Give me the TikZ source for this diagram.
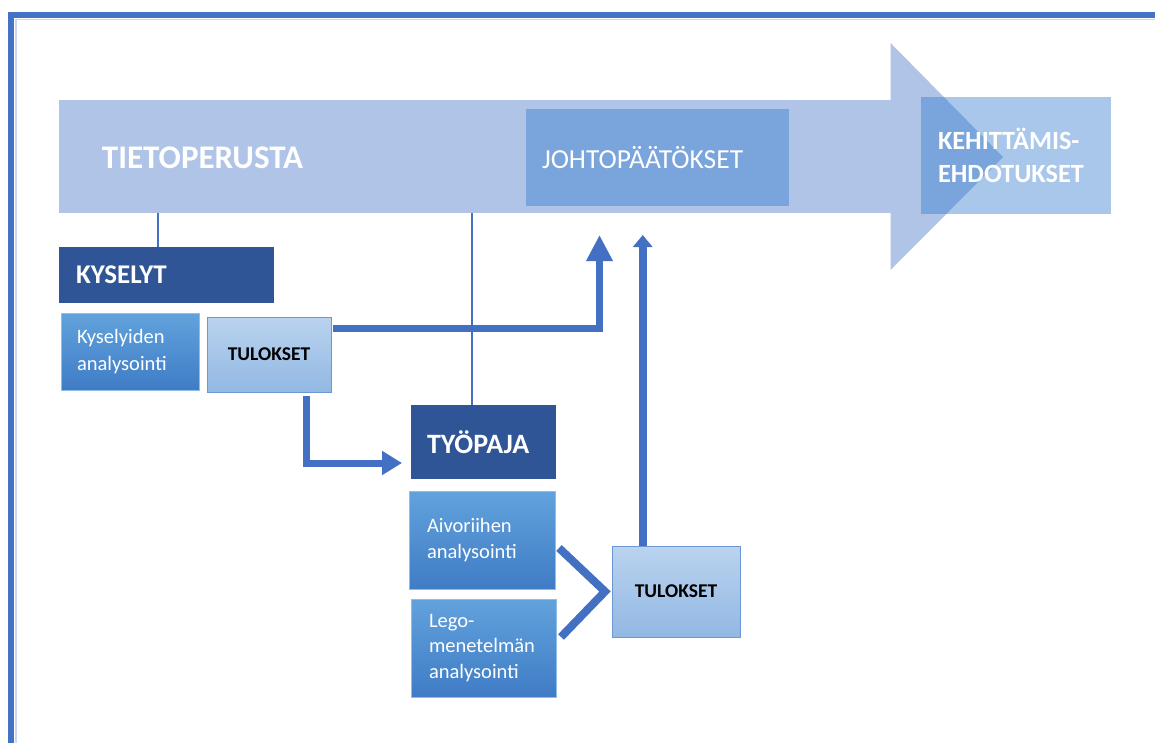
\documentclass[tikz,border=0pt]{standalone}
\usepackage{fontspec}
\setmainfont{Carlito}
\usetikzlibrary{arrows.meta,calc}
\definecolor{frameblue}{HTML}{4472C4}
\definecolor{framepale}{HTML}{C9D7EF}
\definecolor{arrowfill}{HTML}{B0C4E7}
\definecolor{overlayblue}{RGB}{42,117,205}
\definecolor{darkbox}{HTML}{2F5597}
\definecolor{midtop}{HTML}{62A2DC}
\definecolor{midbot}{HTML}{3F7CC6}
\definecolor{lighttop}{HTML}{BAD3EF}
\definecolor{lightbot}{HTML}{92B8E3}
\definecolor{lightedge}{HTML}{6B98D4}
\definecolor{connblue}{HTML}{4370C2}
\begin{document}
\begin{tikzpicture}[x=1pt,y=-1pt,
  basebox/.style={anchor=north west, inner ysep=0pt, outer sep=0pt, align=left, text=white},
  overbox/.style={basebox, fill=overlayblue, fill opacity=0.4, text opacity=1},
  darkbx/.style={basebox, fill=darkbox, font=\bfseries\fontsize{27}{32}\selectfont},
  midbx/.style={basebox, top color=midtop, bottom color=midbot, draw=midtop!70!white, line width=0.6pt, font=\fontsize{20.5}{27.5}\selectfont},
  resbx/.style={basebox, align=center, text=black, top color=lighttop, bottom color=lightbot, draw=lightedge, line width=1pt, font=\bfseries\fontsize{19.5}{23}\selectfont},
  thinline/.style={draw=connblue, line width=1.3pt},
  thickconn/.style={draw=connblue, line width=7pt, line join=miter}
]
\useasboundingbox (0,0) rectangle (1155,743);
\fill[white] (0,0) rectangle (1155,743);

% frame
\draw[framepale, line width=1.2pt] (16,743) -- (16,19.5) -- (1155,19.5);
\draw[frameblue, line width=6pt] (11,743) -- (11,15) -- (1155,15);

% big arrow
\node[anchor=north west, fill=arrowfill, inner sep=0pt, outer sep=0pt, minimum width=832pt, minimum height=113pt] (tieto) at (59,100) {};
\fill[arrowfill] (890.5,43) -- (1003,157) -- (890.5,270) -- cycle;
\node[text=white, font=\bfseries\fontsize{33}{38}\selectfont] (tietotxt) at (202.5,158) {TIETOPERUSTA};

% overlay boxes
\node[overbox, minimum width=263pt, minimum height=97pt, text width=231pt, inner xsep=16pt, font=\fontsize{27.5}{31}\selectfont] (johto) at (526,109) {JOHTOPÄÄTÖKSET};
\node[overbox, minimum width=190pt, minimum height=117pt, text width=156pt, inner xsep=17pt, font=\bfseries\fontsize{26.3}{33}\selectfont] (kehit) at (921,97) {KEHITTÄMIS-\\EHDOTUKSET};

% left column
\node[darkbx, minimum width=215pt, minimum height=56pt, text width=181pt, inner xsep=17pt] (kys) at (59,247) {KYSELYT};
\node[midbx, minimum width=138pt, minimum height=77pt, text width=106pt, inner xsep=16pt] (kysan) at (61,313) {Kyselyiden\\analysointi};
\node[resbx, minimum width=124pt, minimum height=75pt, text width=110pt, inner xsep=7pt] (tul1) at (207,317) {TULOKSET};

% workshop column
\node[darkbx, minimum width=145pt, minimum height=74pt, text width=113pt, inner xsep=16pt, font=\bfseries\fontsize{28}{32}\selectfont] (typ) at (411,405) {TYÖPAJA};
\node[midbx, minimum width=146pt, minimum height=98pt, text width=110pt, inner xsep=18pt, font=\fontsize{20.5}{26.5}\selectfont] (aivo) at (409,491) {Aivoriihen\\analysointi};
\node[midbx, minimum width=145pt, minimum height=98pt, text width=109pt, inner xsep=18pt, font=\fontsize{20.5}{25.5}\selectfont] (lego) at (411,599) {Lego-\\menetelmän\\analysointi};
\node[resbx, minimum width=128pt, minimum height=91pt, text width=114pt, inner xsep=7pt] (tul2) at (612,546) {TULOKSET};

% thin connectors
\coordinate (kq) at ($(kys.north west)!0.46!(kys.north east)$);
\draw[thinline] (kq) -- (kq |- tieto.south);
\coordinate (tq) at ($(typ.north west)!0.42!(typ.north east)$);
\draw[thinline] (tq) -- (tq |- tieto.south);

% thick arrows
\coordinate (c1) at (599.5,235);
\coordinate (c2) at (402,463);
\coordinate (c3) at (642.5,235);
\draw[thickconn, -{Triangle[width=25pt,length=26pt]}, shorten <=1.5pt] ($(tul1.north east)!0.147!(tul1.south east)$) -| (c1);
\draw[thickconn, -{Triangle[width=23pt,length=20pt]}, shorten <=4pt] ($(tul1.south west)!0.806!(tul1.south east)$) |- (c2);
\coordinate (p3) at ($(tul2.north west)!0.24!(tul2.north east)$);
\draw[thickconn, line width=8pt, -{Triangle[width=19pt,length=12pt]}] (p3) -- (p3 |- c3);

% chevron joining the analyses to results
\draw[thickconn, line width=8pt] ($(aivo.east)+(4,8)$) -- ($(tul2.west)+(-7,0)$) -- ($(lego.east)+(5,-11)$);
\end{tikzpicture}
\end{document}
